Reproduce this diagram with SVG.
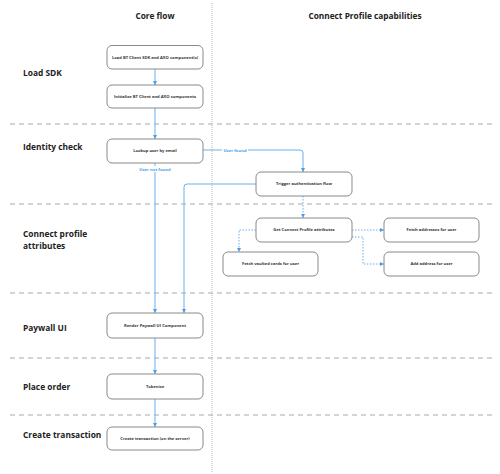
<svg xmlns="http://www.w3.org/2000/svg" width="500" height="474" viewBox="0 0 500 474">
<style>
.hdr{font-family:"Open Sans","Liberation Sans",sans-serif;font-weight:bold;font-size:8.3px;fill:#222;text-anchor:middle}
.row{font-family:"Open Sans","Liberation Sans",sans-serif;font-weight:bold;font-size:8.4px;fill:#222}
.box rect{fill:#fff;stroke:#8a8a8a;stroke-width:1}
.box text{font-family:"Open Sans","Liberation Sans",sans-serif;font-weight:bold;font-size:4.1px;fill:#333;text-anchor:middle}
.lane{stroke:#aaa;stroke-width:1.2;stroke-dasharray:5 4;fill:none}
.col{stroke:#bbb;stroke-width:1;stroke-dasharray:1 1;fill:none}
.c{stroke:#6ab0ee;stroke-width:1;fill:none}
.d{stroke:#6ab0ee;stroke-width:1;fill:none;stroke-dasharray:1.5 1.5}
.lbl{font-family:"Open Sans","Liberation Sans",sans-serif;font-weight:bold;font-size:4.2px;fill:#4a9fe8;text-anchor:middle}
</style>
<defs>
<marker id="ah" viewBox="0 0 6 6" refX="6" refY="3" markerWidth="4" markerHeight="4" orient="auto">
<path d="M0,0 L6,3 L0,6 z" fill="#4a9fe8"/>
</marker>
</defs>
<rect width="500" height="474" fill="#fff"/>
<g id="grid">
<line class="col" x1="212" y1="3" x2="212" y2="472"/>
<line class="lane" x1="10" y1="124" x2="493" y2="124"/>
<line class="lane" x1="10" y1="204" x2="493" y2="204"/>
<line class="lane" x1="10" y1="293" x2="493" y2="293"/>
<line class="lane" x1="10" y1="358" x2="493" y2="358"/>
<line class="lane" x1="10" y1="415" x2="493" y2="415"/>
</g>
<g id="headers">
<text class="hdr" x="155" y="19">Core flow</text>
<text class="hdr" x="365" y="19">Connect Profile capabilities</text>
</g>
<g id="rows">
<text class="row" x="23" y="76">Load SDK</text>
<text class="row" x="23" y="150">Identity check</text>
<text class="row" x="23" y="237">Connect profile</text>
<text class="row" x="23" y="249">attributes</text>
<text class="row" x="23" y="331">Paywall UI</text>
<text class="row" x="23" y="390">Place order</text>
<text class="row" x="23" y="438">Create transaction</text>
</g>
<g id="connectors">
<line class="c" x1="155" y1="69" x2="155" y2="85" marker-end="url(#ah)"/>
<line class="c" x1="155" y1="108" x2="155" y2="139" marker-end="url(#ah)"/>
<line class="c" x1="155" y1="163" x2="155" y2="313" marker-end="url(#ah)"/>
<path class="c" d="M203,150 H300 Q303,150 303,153 V172" marker-end="url(#ah)"/>
<path class="c" d="M256,184 H187 Q184,184 184,187 V313" marker-end="url(#ah)"/>
<line class="d" x1="303" y1="196" x2="303" y2="218" marker-end="url(#ah)"/>
<path class="d" d="M256,230 H239 V252" marker-end="url(#ah)"/>
<line class="d" x1="352" y1="230" x2="384" y2="230" marker-end="url(#ah)"/>
<path class="d" d="M352,237 H363 V264 H384" marker-end="url(#ah)"/>
<line class="c" x1="155" y1="338" x2="155" y2="374" marker-end="url(#ah)"/>
<line class="c" x1="155" y1="399" x2="155" y2="427" marker-end="url(#ah)"/>
<rect x="222" y="147" width="26" height="6" fill="#fff"/>
<text class="lbl" x="235" y="151.5">User found</text>
<rect x="140" y="166" width="30" height="6" fill="#fff"/>
<text class="lbl" x="155" y="170.5">User not found</text>
</g>
<g id="n1" class="box"><rect x="107" y="45.5" width="96" height="23.5" rx="5"/><text x="155" y="58.7">Load BT Client SDK and AXO component(s)</text></g>
<g id="n2" class="box"><rect x="107" y="85" width="96" height="23" rx="5"/><text x="155" y="98">Initialize BT Client and AXO components</text></g>
<g id="n3" class="box"><rect x="107" y="139" width="96" height="24" rx="5"/><text x="155" y="152.3">Lookup user by email</text></g>
<g id="n4" class="box"><rect x="256" y="172" width="96" height="24" rx="5"/><text x="304" y="185.3">Trigger authentication flow</text></g>
<g id="n5" class="box"><rect x="256" y="218" width="96" height="24" rx="5"/><text x="304" y="231.3">Get Connect Profile attributes</text></g>
<g id="n6" class="box"><rect x="384" y="218" width="95" height="24" rx="5"/><text x="431.5" y="231.3">Fetch addresses for user</text></g>
<g id="n7" class="box"><rect x="223" y="252" width="95" height="24" rx="5"/><text x="270.5" y="265.3">Fetch vaulted cards for user</text></g>
<g id="n8" class="box"><rect x="384" y="252" width="95" height="24" rx="5"/><text x="431.5" y="265.3">Add address for user</text></g>
<g id="n9" class="box"><rect x="107" y="313" width="96" height="25" rx="5"/><text x="155" y="326.8">Render Paywall UI Component</text></g>
<g id="n10" class="box"><rect x="107" y="374" width="96" height="25" rx="5"/><text x="155" y="387.8">Tokenize</text></g>
<g id="n11" class="box"><rect x="107" y="427" width="96" height="23" rx="5"/><text x="155" y="439.8">Create transaction (on the server)</text></g>
</svg>
